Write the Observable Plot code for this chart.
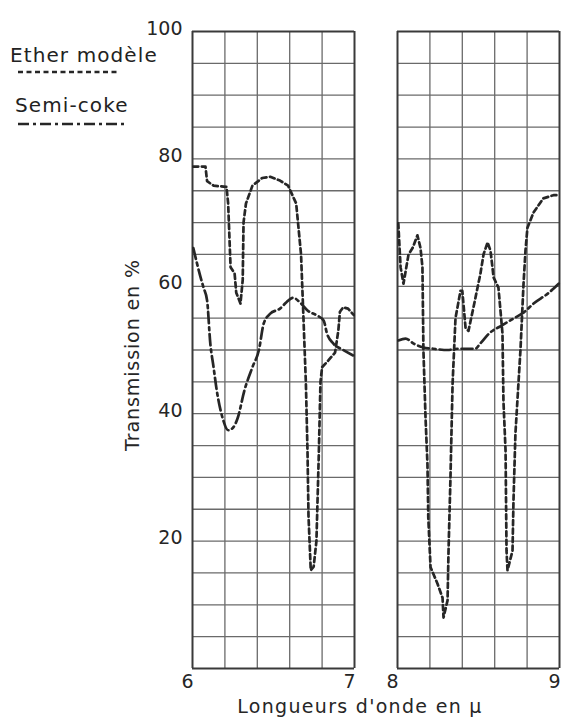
<!DOCTYPE html>
<html>
<head>
<meta charset="utf-8">
<script src="https://cdn.jsdelivr.net/npm/d3@7"></script>
<script src="https://cdn.jsdelivr.net/npm/@observablehq/plot@0.6"></script>
<style>
  body { margin: 0; background: #fff; }
  #wrap { position: relative; width: 561px; height: 719px; font-family: "DejaVu Sans", sans-serif; color: #222; }
  #legend { position: absolute; left: 0; top: 0; width: 170px; height: 140px; }
  #legend .lab { position: absolute; font-size: 20px; letter-spacing: 1.1px; white-space: nowrap; }
  #legend svg { position: absolute; overflow: visible; }
</style>
</head>
<body>
<div id="wrap">
  <div id="legend"></div>
  <div id="chart"></div>
</div>
<script>
// ---- data ----
const seriesNames = ["Ether modèle", "Semi-coke"];

const etherLeftX = [6.005, 6.08, 6.09, 6.13, 6.21, 6.22, 6.235, 6.26, 6.27, 6.296, 6.31, 6.315, 6.33, 6.37, 6.43, 6.48, 6.54, 6.59, 6.64, 6.67, 6.685, 6.70, 6.71, 6.716, 6.73, 6.748, 6.765, 6.78, 6.79, 6.80, 6.84, 6.88, 6.90, 6.91, 6.93, 6.96, 6.995];
const etherLeftT = [78.8, 78.8, 76.5, 75.8, 75.6, 73, 63, 62, 59, 57.3, 61, 70, 73, 75.8, 77, 77.2, 76.6, 75.8, 73, 65, 55, 44.7, 34, 24, 15.4, 16, 20, 34, 45, 47.3, 48.4, 49.6, 53, 56, 56.7, 56.5, 55.5];

const etherRightX = [8.005, 8.019, 8.037, 8.068, 8.093, 8.123, 8.142, 8.154, 8.16, 8.173, 8.185, 8.19, 8.204, 8.247, 8.278, 8.284, 8.309, 8.315, 8.327, 8.34, 8.358, 8.389, 8.40, 8.42, 8.438, 8.469, 8.512, 8.531, 8.556, 8.574, 8.586, 8.593, 8.623, 8.648, 8.654, 8.667, 8.673, 8.679, 8.71, 8.716, 8.728, 8.759, 8.778, 8.79, 8.802, 8.84, 8.90, 8.963, 8.995];
const etherRightT = [69.9, 63, 60.4, 65, 66, 68, 66, 63, 50, 39.4, 32, 23.7, 15.9, 13.3, 11.1, 8, 10.7, 18.5, 30, 44.7, 55, 59.3, 59.3, 53.5, 53, 56.7, 62, 65, 66.9, 65.6, 63, 61.4, 59.8, 52.6, 42, 34.2, 18.5, 15.4, 18.5, 26.4, 36.9, 50, 60.4, 65.6, 69.2, 71.6, 73.8, 74.3, 74.3];

const cokeLeftX = [6.005, 6.05, 6.068, 6.09, 6.11, 6.13, 6.15, 6.185, 6.22, 6.25, 6.28, 6.32, 6.37, 6.41, 6.44, 6.48, 6.54, 6.58, 6.62, 6.67, 6.71, 6.77, 6.81, 6.83, 6.87, 6.93, 6.995];
const cokeLeftT = [66, 61.4, 59.8, 57.8, 51, 47.3, 43.6, 39.4, 37.4, 37.8, 39.4, 43.6, 47.3, 50, 54.2, 55.7, 56.5, 57.5, 58.2, 57.3, 56.2, 55.4, 54.6, 52.6, 51, 50, 49.1];

const cokeRightX = [8.005, 8.05, 8.10, 8.16, 8.22, 8.31, 8.37, 8.43, 8.48, 8.51, 8.57, 8.64, 8.72, 8.78, 8.84, 8.93, 8.995];
const cokeRightT = [51.5, 51.8, 51, 50.4, 50.2, 50, 50.2, 50.2, 50.2, 51, 52.7, 53.8, 55, 55.9, 57.3, 58.9, 60.4];

// axis ticks and grid
const xTicks = [6, 7, 8, 9];
const yTicks = [20, 40, 60, 80, 100];
const gridXLeft = [6.2, 6.4, 6.6, 6.8];
const gridXRight = [8.2, 8.4, 8.6, 8.8];
const gridY = [5, 10, 15, 20, 25, 30, 35, 40, 45, 50, 55, 60, 65, 70, 75, 80, 85, 90, 95];
const panels = [[6, 7], [8, 9]];
const xLabel = "Longueurs d'onde en µ";
const yLabel = "Transmission en %";

// ---- build tables ----
const toRows = (xs, ts, series, seg) => xs.map((x, i) => ({x, t: ts[i], series, seg}));
const ether = [...toRows(etherLeftX, etherLeftT, seriesNames[0], "L"), ...toRows(etherRightX, etherRightT, seriesNames[0], "R")];
const coke = [...toRows(cokeLeftX, cokeLeftT, seriesNames[1], "L"), ...toRows(cokeRightX, cokeRightT, seriesNames[1], "R")];

const ink = "#262626";
const gridColor = "#6a6a6a";
const etherDash = "5,3.5";
const cokeDash = "11,4,3,4";

const vGrid = [...gridXLeft, ...gridXRight];
const hGrid = panels.flatMap(([a, b]) => gridY.map(y => ({y, a, b})));
const borderH = panels.flatMap(([a, b]) => [0, 100].map(y => ({y, a, b})));

const chart = Plot.plot({
  width: 561,
  height: 719,
  marginLeft: 192,
  marginRight: 2,
  marginTop: 31,
  marginBottom: 51,
  style: { fontFamily: "'DejaVu Sans', sans-serif", fontSize: "19px", color: ink, background: "transparent", overflow: "visible" },
  x: { type: "linear", domain: [6, 7, 8, 9], range: [192, 354, 397, 559] },
  y: { domain: [0, 100] },
  marks: [
    Plot.ruleX(vGrid, { x: d => d, y1: () => 0, y2: () => 100, stroke: gridColor, strokeWidth: 1.3 }),
    Plot.ruleY(hGrid, { y: "y", x1: "a", x2: "b", stroke: gridColor, strokeWidth: 1.3 }),
    Plot.ruleX(xTicks, { x: d => d, y1: () => 0, y2: () => 100, stroke: "#3a3a3a", strokeWidth: 2 }),
    Plot.ruleY(borderH, { y: "y", x1: "a", x2: "b", stroke: "#3a3a3a", strokeWidth: 2 }),
    Plot.line(coke, { x: "x", y: "t", z: "seg", stroke: ink, strokeWidth: 2.7, strokeDasharray: cokeDash, curve: "monotone-x" }),
    Plot.line(ether, { x: "x", y: "t", z: "seg", stroke: ink, strokeWidth: 2.7, strokeDasharray: etherDash, curve: "linear" }),
    Plot.axisX(xTicks, { tickSize: 0, tickPadding: 6, fontSize: 19, dx: -5, tickFormat: d3.format("d"), label: null }),
    Plot.axisY(yTicks, { tickSize: 0, tickPadding: 10, fontSize: 19, dy: -3, tickFormat: d3.format("d"), label: null }),
    Plot.text([xLabel], { frameAnchor: "bottom", text: d => d, dx: -16, dy: 44, fontSize: 19, fill: ink }),
    Plot.text([yLabel], { frameAnchor: "left", text: d => d, rotate: -90, textAnchor: "middle", dx: -60, dy: 5, fontSize: 19, fill: ink })
  ]
});
d3.select(chart).selectAll("text").filter(function () { return this.textContent === yLabel; }).style("letter-spacing", "0.9px");
d3.select(chart).selectAll("text").filter(function () { return this.textContent === xLabel; }).style("letter-spacing", "1.3px");
document.getElementById("chart").appendChild(chart);

// ---- legend (HTML overlay) ----
const legend = document.getElementById("legend");
const legendItems = [
  { name: seriesNames[0], dash: etherDash, top: 43, lineY: 72, x2: 118, left: 10 },
  { name: seriesNames[1], dash: cokeDash, top: 93, lineY: 124, x2: 126, left: 15 }
];
legendItems.forEach(it => {
  const lab = document.createElement("div");
  lab.className = "lab";
  lab.style.left = it.left + "px";
  lab.style.top = it.top + "px";
  lab.textContent = it.name;
  legend.appendChild(lab);
  const svg = d3.create("svg").attr("width", 1).attr("height", 1)
    .style("left", "0px").style("top", "0px");
  svg.append("line").attr("x1", 18).attr("x2", it.x2).attr("y1", it.lineY).attr("y2", it.lineY)
    .attr("stroke", ink).attr("stroke-width", 2.7).attr("stroke-dasharray", it.dash);
  legend.appendChild(svg.node());
});
</script>
</body>
</html>
